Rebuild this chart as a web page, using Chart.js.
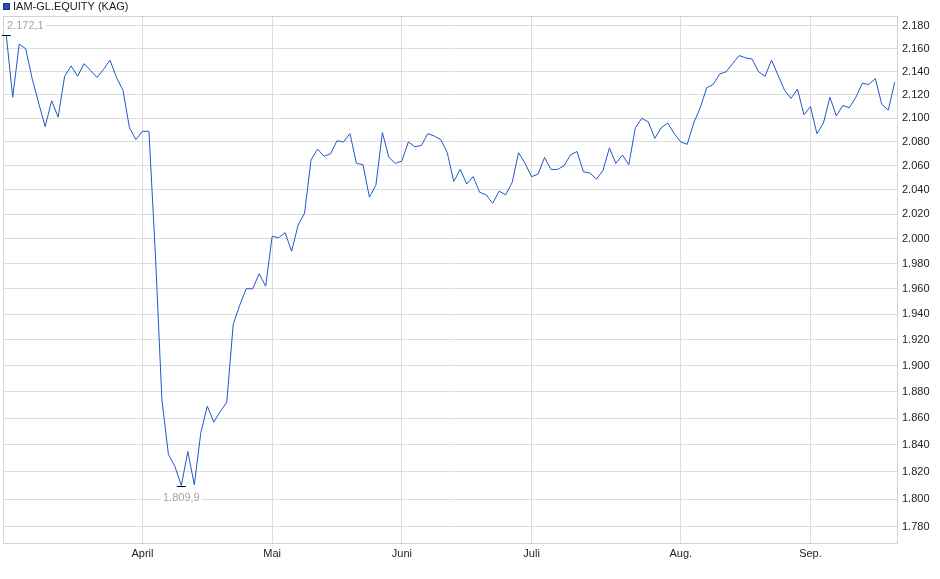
<!DOCTYPE html>
<html>
<head>
<meta charset="utf-8">
<script src="https://cdn.jsdelivr.net/npm/chart.js@4.4.1/dist/chart.umd.min.js"></script>
<style>
  html, body { margin: 0; padding: 0; background: #ffffff; }
  #wrap { width: 940px; height: 579px; }
</style>
</head>
<body>
<div id="wrap"><canvas id="c" width="940" height="579"></canvas></div>
<script>
const seriesName = 'IAM-GL.EQUITY (KAG)';

const dates = [
  '03.03.2025','04.03.2025','05.03.2025','06.03.2025','07.03.2025','10.03.2025','11.03.2025','12.03.2025','13.03.2025','14.03.2025',
  '17.03.2025','18.03.2025','19.03.2025','20.03.2025','21.03.2025','24.03.2025','25.03.2025','26.03.2025','27.03.2025','28.03.2025',
  '31.03.2025',
  '01.04.2025','02.04.2025','03.04.2025','04.04.2025','07.04.2025','08.04.2025','09.04.2025','10.04.2025','11.04.2025','14.04.2025',
  '15.04.2025','16.04.2025','17.04.2025','22.04.2025','23.04.2025','24.04.2025','25.04.2025','28.04.2025','29.04.2025','30.04.2025',
  '02.05.2025','05.05.2025','06.05.2025','07.05.2025','08.05.2025','09.05.2025','12.05.2025','13.05.2025','14.05.2025','15.05.2025',
  '16.05.2025','19.05.2025','20.05.2025','21.05.2025','22.05.2025','23.05.2025','26.05.2025','27.05.2025','28.05.2025','30.05.2025',
  '02.06.2025','03.06.2025','04.06.2025','05.06.2025','06.06.2025','10.06.2025','11.06.2025','12.06.2025','13.06.2025','16.06.2025',
  '17.06.2025','18.06.2025','19.06.2025','20.06.2025','23.06.2025','24.06.2025','25.06.2025','26.06.2025','27.06.2025','30.06.2025',
  '01.07.2025','02.07.2025','03.07.2025','04.07.2025','07.07.2025','08.07.2025','09.07.2025','10.07.2025','11.07.2025','14.07.2025',
  '15.07.2025','16.07.2025','17.07.2025','18.07.2025','21.07.2025','22.07.2025','23.07.2025','24.07.2025','25.07.2025','28.07.2025',
  '29.07.2025','30.07.2025','31.07.2025',
  '01.08.2025','04.08.2025','05.08.2025','06.08.2025','07.08.2025','08.08.2025','11.08.2025','12.08.2025','13.08.2025','14.08.2025',
  '18.08.2025','19.08.2025','20.08.2025','21.08.2025','22.08.2025','25.08.2025','26.08.2025','27.08.2025','28.08.2025','29.08.2025',
  '01.09.2025','02.09.2025','03.09.2025','04.09.2025','05.09.2025','08.09.2025','09.09.2025','10.09.2025','11.09.2025','12.09.2025',
  '15.09.2025','16.09.2025','17.09.2025','18.09.2025'
];

const values = [
  2172.1, 2118, 2164, 2160, 2134, 2113, 2093, 2115, 2101, 2136,
  2145, 2136, 2147, 2141, 2135, 2142, 2150, 2135, 2124, 2092,
  2082, 2089, 2089, 1987, 1874, 1833, 1824, 1809.9, 1835, 1810.5,
  1849, 1869, 1857, 1865, 1872, 1932, 1947, 1960, 1960, 1972,
  1962, 2002, 2001, 2005, 1990, 2011, 2021, 2065, 2074, 2068,
  2070, 2081, 2080, 2087, 2062, 2061, 2034, 2044, 2088, 2067,
  2062, 2064, 2080, 2076, 2077, 2087, 2085, 2082, 2071, 2047,
  2057, 2045, 2051, 2038, 2036, 2029, 2039, 2036, 2046, 2071,
  2062, 2051, 2053, 2067, 2057, 2057, 2060, 2069, 2072, 2055,
  2054, 2049, 2056, 2075, 2062, 2069, 2061, 2092, 2100, 2097,
  2083, 2092, 2096, 2087, 2080, 2078, 2096, 2109, 2126, 2129,
  2138, 2140, 2147, 2154, 2152, 2151, 2140, 2136, 2150, 2137,
  2124, 2117, 2125, 2103, 2110, 2087, 2096, 2118, 2102, 2111,
  2109, 2118, 2130, 2129, 2134, 2112, 2107, 2131
];

const monthNames = { '03': 'März', '04': 'April', '05': 'Mai', '06': 'Juni', '07': 'Juli', '08': 'Aug.', '09': 'Sep.' };

const yTicks = [1780, 1800, 1820, 1840, 1860, 1880, 1900, 1920, 1940, 1960, 1980,
                2000, 2020, 2040, 2060, 2080, 2100, 2120, 2140, 2160, 2180];
const yMin = 1767.6;
const yMax = 2188.8;

function groupThousands(intStr) {
  return intStr.replace(/\B(?=(\d{3})+(?!\d))/g, '.');
}
function fmtInt(v) { return groupThousands(String(Math.round(v))); }
function fmtDec(v) {
  const parts = v.toFixed(1).split('.');
  return groupThousands(parts[0]) + ',' + parts[1];
}
function monthOf(d) { return d.substring(3, 5); }
function isMonthStart(i) { return i > 0 && monthOf(dates[i]) !== monthOf(dates[i - 1]); }

const GRID = '#dcdcdc';
const LINE = '#1f59c6';
const FONT = '11px "Liberation Sans", Arial, sans-serif';

const frame = {
  id: 'frame',
  beforeDatasetsDraw(chart) {
    const a = chart.chartArea, ctx = chart.ctx;
    ctx.save();
    ctx.strokeStyle = '#d4d4d4';
    ctx.lineWidth = 1;
    ctx.strokeRect(Math.round(a.left) + 0.5, Math.round(a.top) + 0.5,
                   Math.round(a.right - a.left) - 1, Math.round(a.bottom - a.top) - 1);
    ctx.restore();
  }
};

const seriesLegend = {
  id: 'seriesLegend',
  afterDraw(chart) {
    const ctx = chart.ctx;
    const ds = chart.data.datasets[0];
    ctx.save();
    ctx.fillStyle = ds.backgroundColor;
    ctx.fillRect(3, 3, 7, 7);
    ctx.strokeStyle = '#17377a';
    ctx.lineWidth = 1;
    ctx.strokeRect(3.5, 3.5, 6, 6);
    ctx.font = FONT;
    ctx.fillStyle = '#222222';
    ctx.textBaseline = 'middle';
    ctx.textAlign = 'left';
    ctx.fillText(ds.label, 13, 7);
    ctx.restore();
  }
};

const extrema = {
  id: 'extrema',
  afterDatasetsDraw(chart) {
    const data = chart.data.datasets[0].data;
    let maxI = 0, minI = 0;
    data.forEach((v, i) => { if (v > data[maxI]) maxI = i; if (v < data[minI]) minI = i; });
    const xs = chart.scales.x, ys = chart.scales.y, ctx = chart.ctx, a = chart.chartArea;
    ctx.save();
    ctx.font = FONT;
    ctx.textBaseline = 'middle';
    ctx.textAlign = 'left';
    const draw = (i, dy) => {
      const px = xs.getPixelForValue(i);
      const py = ys.getPixelForValue(data[i]);
      const txt = fmtDec(data[i]);
      const w = ctx.measureText(txt).width;
      let left = px - w / 2;
      if (left < a.left + 4) left = a.left + 4;
      const cy = py + dy;
      ctx.fillStyle = '#ffffff';
      ctx.fillRect(left - 2, cy - 6, w + 4, 12);
      ctx.fillStyle = '#a3a3a3';
      ctx.fillText(txt, left, cy);
      ctx.strokeStyle = '#000000';
      ctx.lineWidth = 1;
      ctx.beginPath();
      const yy = Math.round(py) + 0.5;
      ctx.moveTo(px - 4.5, yy);
      ctx.lineTo(px + 4.5, yy);
      ctx.stroke();
    };
    draw(maxI, -9);
    draw(minI, 12);
    ctx.restore();
  }
};

Chart.defaults.font.family = '"Liberation Sans", Arial, sans-serif';
Chart.defaults.font.size = 11;
Chart.defaults.color = '#222222';

new Chart(document.getElementById('c'), {
  type: 'line',
  data: {
    labels: dates,
    datasets: [{
      label: seriesName,
      data: values,
      borderColor: LINE,
      backgroundColor: '#1f4fb4',
      borderWidth: 1,
      pointRadius: 0,
      pointHoverRadius: 0,
      tension: 0,
      fill: false
    }]
  },
  options: {
    responsive: false,
    animation: false,
    devicePixelRatio: 1,
    layout: { padding: { left: 3, top: 16, right: 0, bottom: 0 } },
    plugins: {
      legend: { display: false },
      tooltip: { enabled: false }
    },
    scales: {
      x: {
        type: 'category',
        offset: true,
        grid: {
          drawTicks: false,
          color: (c) => (c.index !== undefined && isMonthStart(c.index)) ? GRID : 'rgba(0,0,0,0)'
        },
        border: { display: false },
        ticks: {
          autoSkip: false,
          maxRotation: 0,
          minRotation: 0,
          padding: 3,
          color: '#222222',
          callback: (v, i) => isMonthStart(i) ? monthNames[monthOf(dates[i])] : ''
        },
        afterFit: (s) => { s.height = 35; }
      },
      y: {
        type: 'logarithmic',
        position: 'right',
        min: yMin,
        max: yMax,
        grid: { drawTicks: false, color: GRID },
        border: { display: false },
        ticks: {
          autoSkip: false,
          padding: 4,
          color: '#222222',
          callback: (v) => fmtInt(v)
        },
        afterBuildTicks: (s) => { s.ticks = yTicks.map(v => ({ value: v })); },
        afterFit: (s) => { s.width = 42; }
      }
    }
  },
  plugins: [frame, extrema, seriesLegend]
});
</script>
</body>
</html>
